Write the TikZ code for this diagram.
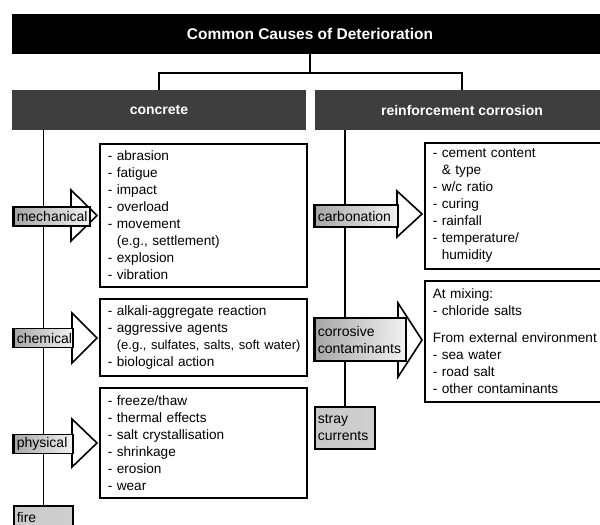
\documentclass[tikz,border=0pt]{standalone}
\usepackage{fontspec}
\setmainfont{Liberation Sans}
\usetikzlibrary{positioning, backgrounds}
\definecolor{barcol}{HTML}{3E3E3E}

\begin{document}
\begin{tikzpicture}[x=1pt, y=-1pt,
    topbar/.style={fill=black, text=white, minimum width=596, minimum height=40,
      font=\fontsize{15.5}{18}\selectfont\bfseries},
    headbar/.style={fill=barcol, text=white, minimum width=294, minimum height=40,
      font=\fontsize{14}{17}\selectfont\bfseries},
    listbox/.style={draw, line width=1.6, anchor=north west, inner xsep=8, inner ysep=0,
      align=left, font=\fontsize{13.6}{17}\selectfont},
    causelab/.style={draw, line width=1.6, left color=gray!70, right color=gray!10,
      anchor=west, inner xsep=3, inner ysep=2, align=left,
      font=\fontsize{14}{17}\selectfont},
    plainlab/.style={causelab, left color=gray!42, right color=gray!38},
    causearrow/.style={draw, fill=white, line width=1.6, line join=miter},
    spine/.style={line width=1.6}]
  \useasboundingbox (0,0) rectangle (600,525);
  \clip (0,0) rectangle (600,525);

  % headings
  \node[topbar] (title) at (310,34) {Common Causes of Deterioration};
  \node[headbar] (concrete) at (159,110) {concrete};
  \node[headbar] (corrosion) at (462,110) {reinforcement corrosion};
  \coordinate (split) at (310,73);

  % lists
  \node[listbox, text width=191, minimum height=143] (mechlist) at (99,143)
    {- abrasion\\- fatigue\\- impact\\- overload\\- movement\\
     \phantom{- }(e.g., settlement)\\- explosion\\- vibration};
  \node[listbox, text width=191, minimum height=77] (chemlist) at (99,298)
    {- alkali-aggregate reaction\\- aggressive agents\\
     \mbox{\phantom{- }\fontsize{13}{17}\selectfont(e.g., sulfates, salts, soft water)}\\
     - biological action};
  \node[listbox, text width=191, minimum height=110] (physlist) at (99,387)
    {- freeze/thaw\\- thermal effects\\- salt crystallisation\\- shrinkage\\
     - erosion\\- wear};
  \node[listbox, text width=200, minimum height=126] (carblist) at (424,142)
    {- cement content\\\phantom{- }\& type\\- w/c ratio\\- curing\\- rainfall\\
     - temperature/\\\phantom{- }humidity};
  \node[listbox, text width=200, minimum height=121] (corrlist) at (424,280)
    {At mixing:\\- chloride salts\\[10pt]\mbox{From external environment}\\
     - sea water\\- road salt\\- other contaminants};

  % arrows
  \draw[causearrow] (13,207) -- (71,207) -- (71,190) -- (97,215.5)
    -- (71,241) -- (71,226) -- (13,226) -- cycle;
  \draw[causearrow] (13,329) -- (72,329) -- (72,313) -- (97,338)
    -- (72,363) -- (72,347) -- (13,347) -- cycle;
  \draw[causearrow] (13,435) -- (72,435) -- (72,419) -- (97,443)
    -- (72,467) -- (72,453) -- (13,453) -- cycle;
  \draw[causearrow] (314,205) -- (397,205) -- (397,191) -- (422,214)
    -- (397,237) -- (397,227) -- (314,227) -- cycle;
  \draw[causearrow] (314,318) -- (398,318) -- (398,303) -- (422,340)
    -- (398,377) -- (398,361) -- (314,361) -- cycle;

  % causes
  \node[causelab, text width=70, minimum height=19] (mech) at (13,216.5) {mechanical};
  \node[causelab, text width=53, minimum height=19] (chem) at (13,338) {chemical};
  \node[causelab, text width=53, minimum height=19] (phys) at (13,444) {physical};
  \node[plainlab, text width=53, minimum height=22] (fire) at (13,517) {fire};
  \node[causelab, text width=77, minimum height=22] (carb) at (314,216) {carbonation};
  \node[causelab, text width=85, minimum height=43] (corr) at (314,339.5)
    {corrosive\\contaminants};
  \node[plainlab, text width=54, minimum height=42] (stray) at (314,428)
    {stray\\currents};

  % connectors
  \begin{scope}[on background layer]
    \draw[spine] (title.south) -- (split) -| (concrete.north);
    \draw[spine] (split) -| (corrosion.north);
    \draw[spine] (fire.north |- concrete.south) -- (fire.north);
    \draw[spine] (stray.north |- corrosion.south) -- (stray.north);
  \end{scope}
\end{tikzpicture}
\end{document}
